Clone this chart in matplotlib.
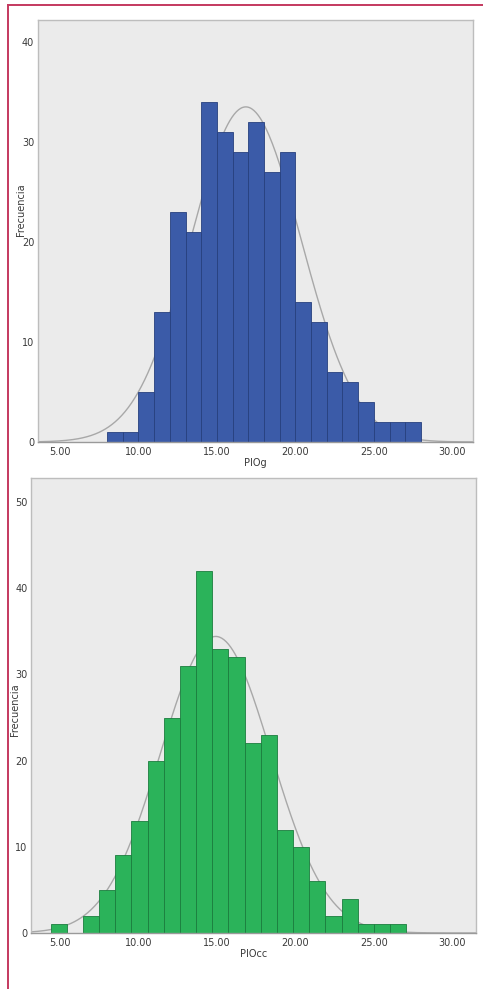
import matplotlib
matplotlib.use("Agg")
import matplotlib.pyplot as plt
import numpy as np

# histograma PIOg (bins de ancho 1, desde 8)
piog_start = 8.0
piog_width = 1.0
piog_counts = [1, 1, 5, 13, 23, 21, 34, 31, 29, 32, 27, 29, 14, 12, 7, 6, 4, 2, 2, 2]

# histograma PIOcc
piocc_start = 4.4
piocc_width = 1.03
piocc_counts = [1, 0, 2, 5, 9, 13, 20, 25, 31, 42, 33, 32, 22, 23, 12, 10, 6, 2, 4, 1, 1, 1]

xticks = [5, 10, 15, 20, 25, 30]
xticklabels = ["5.00", "10.00", "15.00", "20.00", "25.00", "30.00"]

W, H = 483, 989
fig = plt.figure(figsize=(W / 100, H / 100), dpi=100)
fig.patch.set_facecolor("white")

# marco rojo de la pagina
fig.add_artist(plt.Line2D([7.5 / W, 1], [1 - 4.7 / H, 1 - 4.7 / H], color="#c4395f", lw=1.4))
fig.add_artist(plt.Line2D([7.5 / W, 7.5 / W], [0, 1 - 4.7 / H], color="#c4395f", lw=1.4))


def panel(box, xlim, ylim, yticks, start, width, counts, color, edge, xlabel, ylab_x, ylab_y):
    l, t, r, b = box
    ax = fig.add_axes([l / W, 1 - b / H, (r - l) / W, (b - t) / H])
    ax.set_facecolor("#ebebeb")
    counts = np.array(counts)
    lefts = start + width * np.arange(len(counts))
    centers = lefts + width / 2
    n = counts.sum()
    mu = (counts * centers).sum() / n
    sd = np.sqrt((counts * (centers - mu) ** 2).sum() / n)
    xs = np.linspace(xlim[0], xlim[1], 400)
    ys = n * width / (sd * np.sqrt(2 * np.pi)) * np.exp(-0.5 * ((xs - mu) / sd) ** 2)
    ax.plot(xs, ys, color="#a8a8a8", lw=1.0, zorder=1)
    ax.bar(lefts, counts, width=width, align="edge", color=color,
           edgecolor=edge, linewidth=0.6, zorder=2)
    ax.set_xlim(*xlim)
    ax.set_ylim(*ylim)
    ax.set_xticks(xticks)
    ax.set_xticklabels(xticklabels)
    ax.set_yticks(yticks)
    ax.tick_params(length=0, labelsize=7, colors="#3a3a3a", pad=3.5)
    ax.tick_params(axis="y", pad=2.5)
    for s in ["top", "right", "left"]:
        ax.spines[s].set_color("#bdbdbd")
        ax.spines[s].set_linewidth(1.0)
    ax.spines["bottom"].set_color("#9a9a9a")
    ax.spines["bottom"].set_linewidth(1.0)
    ax.set_xlabel(xlabel, fontsize=7, color="#3a3a3a", labelpad=1)
    ax.set_ylabel("Frecuencia", fontsize=7, color="#3a3a3a")
    ax.yaxis.set_label_coords(ylab_x, ylab_y)
    return ax


panel((37.7, 20, 473.3, 442), (3.58, 31.34), (0, 42.2), [0, 10, 20, 30, 40],
      piog_start, piog_width, piog_counts, "#3b5ba8", "#27407e", "PIOg", -0.026, 0.55)
panel((31, 478, 476, 933), (3.15, 31.51), (0, 52.8), [0, 10, 20, 30, 40, 50],
      piocc_start, piocc_width, piocc_counts, "#2bb35a", "#1b7d3e", "PIOcc", -0.024, 0.49)

fig.savefig("out.png", dpi=100)
